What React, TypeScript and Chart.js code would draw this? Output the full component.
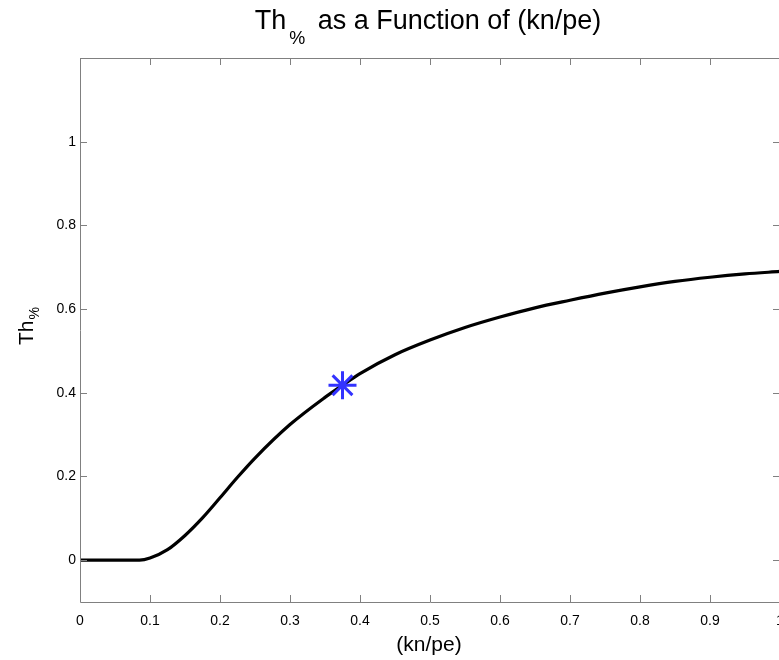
import React, { useEffect, useRef } from "react";
import { Chart, registerables } from "chart.js";

Chart.register(...registerables);

const X_VALUES = [0, 0.05, 0.085, 0.1, 0.125, 0.15, 0.175, 0.2, 0.225, 0.25, 0.3, 0.35, 0.375, 0.4, 0.45, 0.5, 0.55, 0.6, 0.65, 0.7, 0.75, 0.8, 0.85, 0.9, 0.95, 1.0];
const Y_VALUES = [0, 0, 0, 0.005, 0.025, 0.059, 0.101, 0.149, 0.198, 0.244, 0.324, 0.389, 0.418, 0.446, 0.491, 0.526, 0.556, 0.581, 0.603, 0.621, 0.638, 0.653, 0.666, 0.676, 0.684, 0.69];
const MARKER_X = [0.375];
const MARKER_Y = [0.418];
const X_TICKS = [0, 0.1, 0.2, 0.3, 0.4, 0.5, 0.6, 0.7, 0.8, 0.9, 1];
const X_TICK_LABELS = ["0", "0.1", "0.2", "0.3", "0.4", "0.5", "0.6", "0.7", "0.8", "0.9", "1"];
const Y_TICKS = [0, 0.2, 0.4, 0.6, 0.8, 1];
const Y_TICK_LABELS = ["0", "0.2", "0.4", "0.6", "0.8", "1"];

const FONT = "'Liberation Sans', Arial, Helvetica, sans-serif";
const AXIS_COLOR = "#808080";

const boxPlugin = {
  id: "matlabBox",
  afterDatasetsDraw(chart: any) {
    const { ctx, chartArea, scales } = chart;
    const { left, right, top, bottom } = chartArea;
    ctx.save();
    ctx.strokeStyle = AXIS_COLOR;
    ctx.lineWidth = 1;
    ctx.beginPath();
    ctx.moveTo(left + 0.5, top + 0.5);
    ctx.lineTo(right + 0.5, top + 0.5);
    ctx.lineTo(right + 0.5, bottom + 0.5);
    ctx.lineTo(left + 0.5, bottom + 0.5);
    ctx.closePath();
    ctx.stroke();
    const tl = 7;
    ctx.beginPath();
    X_TICKS.forEach((v) => {
      const x = Math.round(scales.x.getPixelForValue(v)) + 0.5;
      ctx.moveTo(x, bottom);
      ctx.lineTo(x, bottom - tl);
      ctx.moveTo(x, top);
      ctx.lineTo(x, top + tl);
    });
    Y_TICKS.forEach((v) => {
      const y = Math.round(scales.y.getPixelForValue(v)) + 0.5;
      ctx.moveTo(left, y);
      ctx.lineTo(left + tl, y);
      ctx.moveTo(right, y);
      ctx.lineTo(right - tl, y);
    });
    ctx.stroke();
    ctx.restore();
  },
  afterDraw(chart: any) {
    const { ctx } = chart;
    ctx.save();
    ctx.fillStyle = "#000";
    ctx.textBaseline = "alphabetic";
    ctx.textAlign = "left";
    // Title
    const big = `27px ${FONT}`;
    const sub = `18px ${FONT}`;
    ctx.font = big;
    const w1 = ctx.measureText("Th").width;
    const w3 = ctx.measureText(" as a Function of (kn/pe)").width;
    ctx.font = sub;
    const w2 = ctx.measureText("%").width;
    const gap = 3;
    const total = w1 + gap + w2 + 5 + w3;
    let x = 428 - total / 2;
    ctx.font = big;
    ctx.fillText("Th", x, 29);
    x += w1 + gap;
    ctx.font = sub;
    ctx.fillText("%", x, 44);
    x += w2 + 5;
    ctx.font = big;
    ctx.fillText(" as a Function of (kn/pe)", x, 29);

    // X label
    ctx.font = `21px ${FONT}`;
    ctx.textAlign = "center";
    ctx.fillText("(kn/pe)", 429, 651);

    // Y label
    ctx.translate(33, 345);
    ctx.rotate(-Math.PI / 2);
    ctx.textAlign = "left";
    ctx.font = `21px ${FONT}`;
    const yw = ctx.measureText("Th").width;
    ctx.fillText("Th", 0, 0);
    ctx.font = `14px ${FONT}`;
    ctx.fillText("%", yw + 1, 6);
    ctx.restore();
  },
};

export default function App() {
  const ref = useRef<HTMLCanvasElement | null>(null);
  useEffect(() => {
    if (!ref.current) return;
    const curve = X_VALUES.map((x, i) => ({ x, y: Y_VALUES[i] }));
    const marker = MARKER_X.map((x, i) => ({ x, y: MARKER_Y[i] }));
    const chart = new Chart(ref.current, {
      type: "scatter",
      data: {
        datasets: [
          {
            data: marker,
            showLine: false,
            pointStyle: "star",
            pointRadius: 14,
            pointBorderWidth: 3,
            borderColor: "#3333ff",
            backgroundColor: "#3333ff",
            order: 0,
          },
          {
            data: curve,
            showLine: true,
            borderColor: "#000",
            borderWidth: 3.2,
            pointRadius: 0,
            cubicInterpolationMode: "monotone",
            order: 1,
          },
        ],
      },
      plugins: [boxPlugin],
      options: {
        responsive: false,
        animation: false,
        layout: { padding: { top: 58, right: 20, left: 0, bottom: 0 } },
        plugins: { legend: { display: false }, title: { display: false }, tooltip: { enabled: false } },
        scales: {
          x: {
            type: "linear",
            min: 0,
            max: 1,
            grid: { display: false, drawTicks: false },
            border: { display: false },
            afterBuildTicks: (s: any) => {
              s.ticks = X_TICKS.map((v) => ({ value: v }));
            },
            afterFit: (s: any) => {
              s.height = 58;
            },
            ticks: {
              padding: 11,
              color: "#000",
              maxRotation: 0,
              autoSkip: false,
              font: { family: FONT, size: 14 },
              callback: (v: any) => {
                const i = X_TICKS.indexOf(Number(v));
                return i >= 0 ? X_TICK_LABELS[i] : "";
              },
            },
          },
          y: {
            type: "linear",
            min: -0.1,
            max: 1.2,
            grid: { display: false, drawTicks: false },
            border: { display: false },
            afterBuildTicks: (s: any) => {
              s.ticks = Y_TICKS.map((v) => ({ value: v }));
            },
            afterFit: (s: any) => {
              s.width = 80;
            },
            ticks: {
              padding: 4,
              color: "#000",
              autoSkip: false,
              font: { family: FONT, size: 14 },
              callback: (v: any) => {
                const i = Y_TICKS.indexOf(Number(v));
                return i >= 0 ? Y_TICK_LABELS[i] : "";
              },
            },
          },
        },
      },
    } as any);
    return () => chart.destroy();
  }, []);
  return (
    <div style={{ position: "fixed", left: 0, top: 0, width: 779, height: 660, overflow: "hidden", background: "#fff" }}>
      <canvas ref={ref} width={800} height={660} style={{ display: "block", width: 800, height: 660 }} />
    </div>
  );
}
